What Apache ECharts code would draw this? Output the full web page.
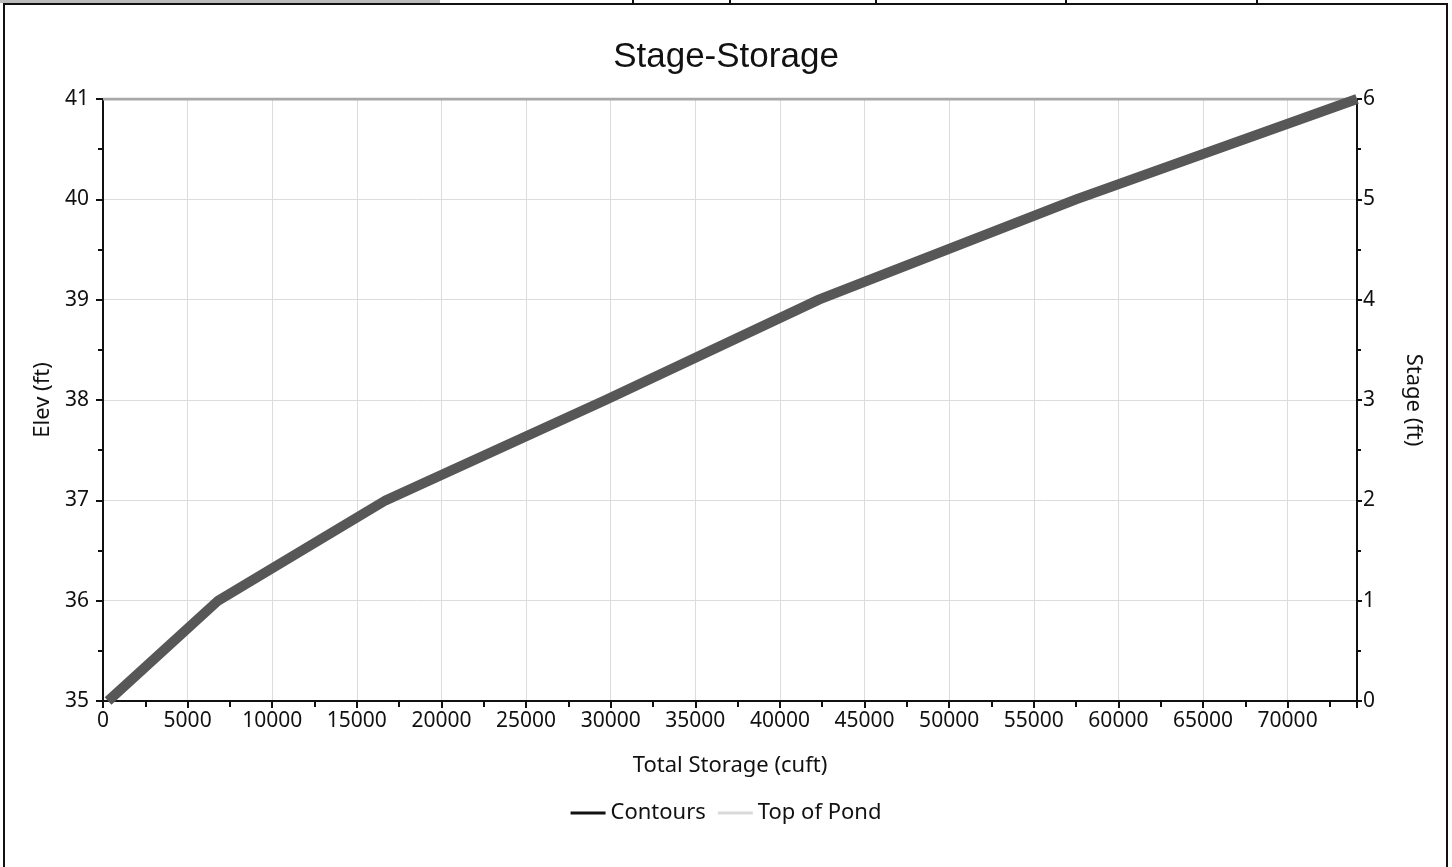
<!DOCTYPE html>
<html><head><meta charset="utf-8">
<script src="https://cdn.jsdelivr.net/npm/echarts@6/dist/echarts.min.js"></script>
<style>html,body{margin:0;padding:0;background:#fff}#c{width:1452px;height:867px}</style>
</head><body><div id="c"></div>
<script>
const storage = [300, 6800, 16700, 29700, 42300, 57500, 74100];
const elev = [35, 36, 37, 38, 39, 40, 41];
const pondStorage = [0, 74100];
const pondElev = [41, 41];
const stageMin = 0, stageMax = 6;
const xMin = 0, xMax = 74100, xStep = 5000;
const elevMin = 35, elevMax = 41, elevStep = 1;

const contours = storage.map((s, i) => [s, elev[i]]);
const pond = pondStorage.map((s, i) => [s, pondElev[i]]);
const font = 'Noto Sans';

const chart = echarts.init(document.getElementById('c'), null, {renderer: 'canvas'});
chart.setOption({
  animation: false,
  backgroundColor: '#fff',
  title: {text: 'Stage-Storage', left: 'center', top: 35,
    textStyle: {fontFamily: 'Liberation Sans', fontSize: 35, fontWeight: 'normal', color: '#111'}},
  grid: {left: 103, right: 95, top: 99, bottom: 166, containLabel: false},
  legend: {bottom: 38, left: 'center', itemGap: 12, itemWidth: 35, itemHeight: 3,
    textStyle: {fontFamily: font, fontSize: 22, color: '#111'},
    data: [
      {name: 'Contours', icon: 'rect', itemStyle: {color: '#111'}},
      {name: 'Top of Pond', icon: 'rect', itemStyle: {color: '#dadada'}}
    ]},
  xAxis: {type: 'value', min: xMin, max: xMax, interval: xStep,
    name: 'Total Storage (cuft)', nameLocation: 'middle', nameGap: 54,
    nameTextStyle: {fontFamily: font, fontSize: 22, color: '#111'},
    axisLine: {lineStyle: {color: '#111', width: 2}},
    axisTick: {length: 7, lineStyle: {color: '#111', width: 2}},
    minorTick: {show: true, splitNumber: 2, length: 6, lineStyle: {color: '#111', width: 2}},
    axisLabel: {fontFamily: font, fontSize: 21, color: '#111', margin: 10, showMaxLabel: false,
      formatter: v => String(v)},
    splitLine: {show: true, lineStyle: {color: '#dcdcdc', width: 1}}},
  yAxis: [
    {type: 'value', min: elevMin, max: elevMax, interval: elevStep, position: 'left',
      name: 'Elev (ft)', nameLocation: 'middle', nameGap: 44,
      nameTextStyle: {fontFamily: font, fontSize: 22, color: '#111'},
      axisLine: {show: true, lineStyle: {color: '#111', width: 2}},
      axisTick: {show: true, length: 7, lineStyle: {color: '#111', width: 2}},
      minorTick: {show: true, splitNumber: 2, length: 5, lineStyle: {color: '#111', width: 2}},
      axisLabel: {fontFamily: font, fontSize: 21, color: '#111', margin: 14},
      splitLine: {show: true, lineStyle: {color: '#dcdcdc', width: 1}}},
    {type: 'value', min: stageMin, max: stageMax, interval: 1, position: 'right',
      name: 'Stage (ft)', nameLocation: 'middle', nameGap: 45, nameRotate: -90,
      nameTextStyle: {fontFamily: font, fontSize: 22, color: '#111'},
      axisLine: {show: true, lineStyle: {color: '#111', width: 2}},
      axisTick: {show: true, length: 5, lineStyle: {color: '#111', width: 2}},
      minorTick: {show: true, splitNumber: 2, length: 4, lineStyle: {color: '#111', width: 2}},
      axisLabel: {fontFamily: font, fontSize: 21, color: '#111', margin: 6},
      splitLine: {show: false}}
  ],
  series: [
    {name: 'Top of Pond', type: 'line', data: pond, symbol: 'none', z: 2,
      lineStyle: {color: '#a8a8a8', width: 3}, itemStyle: {color: '#a8a8a8'}},
    {name: 'Contours', type: 'line', data: contours, symbol: 'none', z: 3,
      lineStyle: {color: '#575757', width: 10, cap: 'butt', join: 'miter'}, itemStyle: {color: '#111'}}
  ],
  graphic: [
    {type: 'rect', shape: {x: 4, y: 4, width: 1443, height: 900}, style: {fill: 'none', stroke: '#111', lineWidth: 2}},
    {type: 'rect', shape: {x: 0, y: 0, width: 440, height: 3}, style: {fill: '#bbb'}},
    {type: 'line', shape: {x1: 633, y1: 0, x2: 633, y2: 4}, style: {stroke: '#111', lineWidth: 2}},
    {type: 'line', shape: {x1: 730, y1: 0, x2: 730, y2: 4}, style: {stroke: '#111', lineWidth: 2}},
    {type: 'line', shape: {x1: 876, y1: 0, x2: 876, y2: 4}, style: {stroke: '#111', lineWidth: 2}},
    {type: 'line', shape: {x1: 1066, y1: 0, x2: 1066, y2: 4}, style: {stroke: '#111', lineWidth: 2}},
    {type: 'line', shape: {x1: 1257, y1: 0, x2: 1257, y2: 4}, style: {stroke: '#111', lineWidth: 2}}
  ]
});
</script></body></html>
